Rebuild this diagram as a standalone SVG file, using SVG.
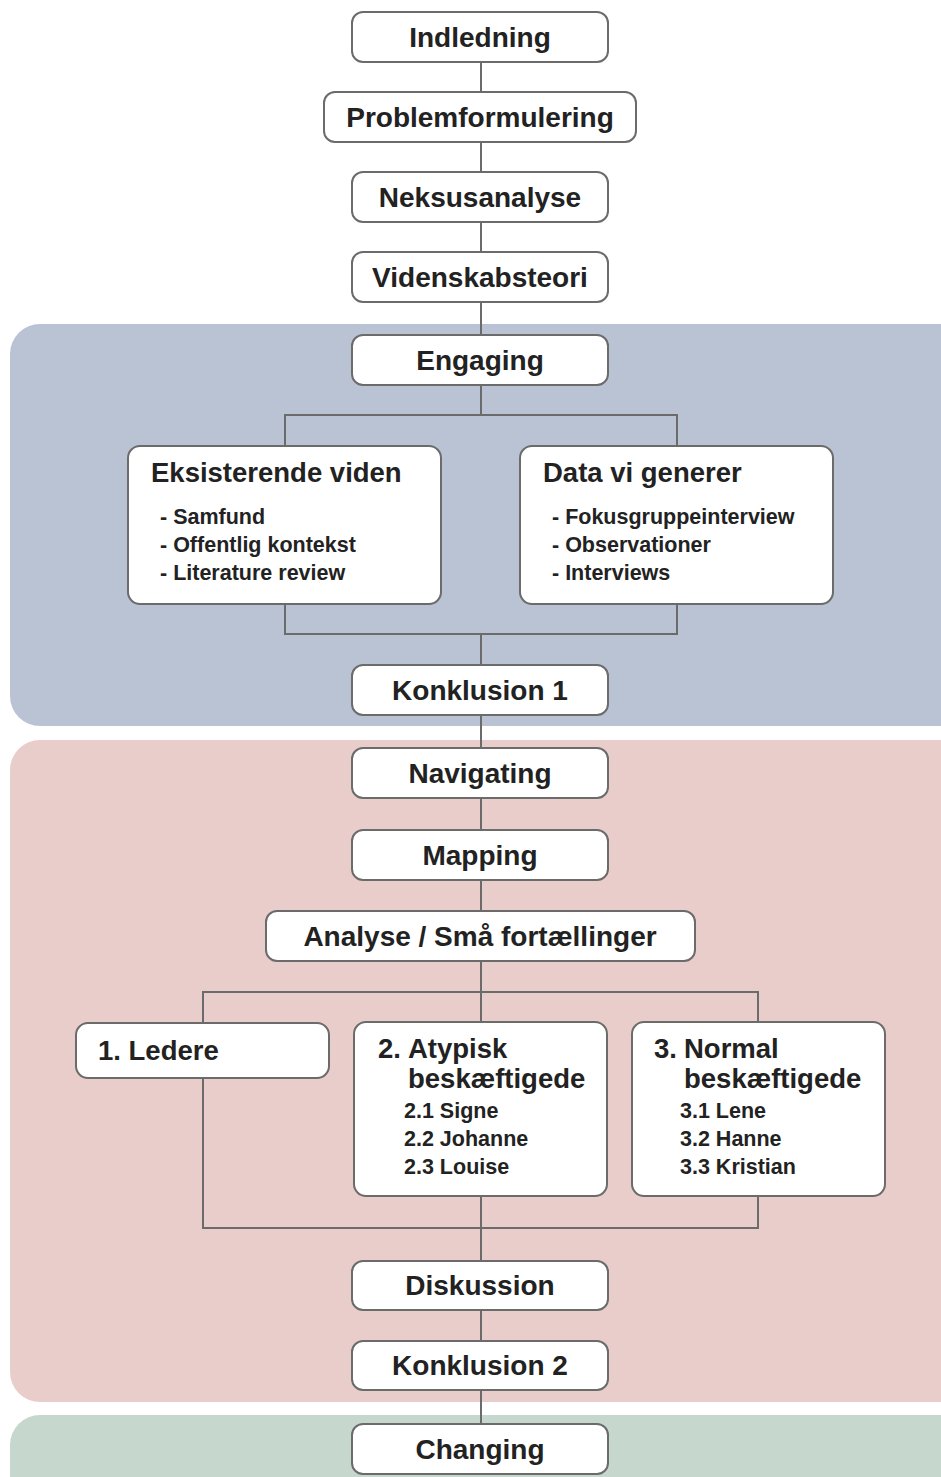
<svg xmlns="http://www.w3.org/2000/svg" width="941" height="1477" viewBox="0 0 941 1477">
<style>
.bg{stroke:none}
.box{fill:#ffffff;stroke:#6b6b6b;stroke-width:2}
.conn{fill:none;stroke:#6b6b6b;stroke-width:2}
text{font-family:"Liberation Sans",Arial,sans-serif;font-weight:bold;fill:#222}
.t{font-size:28px;text-anchor:middle}
.h{font-size:27.5px}
.s{font-size:21.5px}
</style>
<rect width="941" height="1477" fill="#ffffff"/>
<rect class="bg" x="10" y="324" width="970" height="402" rx="30" fill="#b9c3d4"/>
<rect class="bg" x="10" y="740" width="970" height="662" rx="30" fill="#e9cdca"/>
<rect class="bg" x="10" y="1415" width="970" height="100" rx="30" fill="#c6d8cd"/>
<g id="connectors">
<path class="conn" d="M481 62V92M481 142V172M481 222V252M481 302V335"/>
<path class="conn" d="M481 385V415M285 446V415H677V446"/>
<path class="conn" d="M285 604V634H677V604M481 634V665"/>
<path class="conn" d="M481 715V748M481 798V830M481 880V911"/>
<path class="conn" d="M481 961V1022M203 1023V992H758V1022"/>
<path class="conn" d="M203 1078V1228H758V1196M481 1196V1261"/>
<path class="conn" d="M481 1310V1341M481 1390V1424"/>
</g>
<g id="indledning"><rect class="box" x="352" y="12" width="256" height="50" rx="11"/><text class="t" x="480" y="47">Indledning</text></g>
<g id="problemformulering"><rect class="box" x="324" y="92" width="312" height="50" rx="11"/><text class="t" x="480" y="127">Problemformulering</text></g>
<g id="neksusanalyse"><rect class="box" x="352" y="172" width="256" height="50" rx="11"/><text class="t" x="480" y="207">Neksusanalyse</text></g>
<g id="videnskabsteori"><rect class="box" x="352" y="252" width="256" height="50" rx="11"/><text class="t" x="480" y="287">Videnskabsteori</text></g>
<g id="engaging"><rect class="box" x="352" y="335" width="256" height="50" rx="11"/><text class="t" x="480" y="370">Engaging</text></g>
<g id="eksisterende"><rect class="box" x="128" y="446" width="313" height="158" rx="12"/>
<text class="h" x="151" y="482">Eksisterende viden</text>
<text class="s" x="160" y="524">- Samfund</text>
<text class="s" x="160" y="552">- Offentlig kontekst</text>
<text class="s" x="160" y="580">- Literature review</text></g>
<g id="data"><rect class="box" x="520" y="446" width="313" height="158" rx="12"/>
<text class="h" x="543" y="482">Data vi generer</text>
<text class="s" x="552" y="524">- Fokusgruppeinterview</text>
<text class="s" x="552" y="552">- Observationer</text>
<text class="s" x="552" y="580">- Interviews</text></g>
<g id="konklusion1"><rect class="box" x="352" y="665" width="256" height="50" rx="11"/><text class="t" x="480" y="700">Konklusion 1</text></g>
<g id="navigating"><rect class="box" x="352" y="748" width="256" height="50" rx="11"/><text class="t" x="480" y="783">Navigating</text></g>
<g id="mapping"><rect class="box" x="352" y="830" width="256" height="50" rx="11"/><text class="t" x="480" y="865">Mapping</text></g>
<g id="analyse"><rect class="box" x="266" y="911" width="429" height="50" rx="11"/><text class="t" x="480" y="946">Analyse / Små fortællinger</text></g>
<g id="ledere"><rect class="box" x="76" y="1023" width="253" height="55" rx="12"/><text class="h" x="98" y="1060">1. Ledere</text></g>
<g id="atypisk"><rect class="box" x="354" y="1022" width="253" height="174" rx="12"/>
<text class="h" x="378" y="1058">2.</text><text class="h" x="408" y="1058">Atypisk</text>
<text class="h" x="408" y="1088">beskæftigede</text>
<text class="s" x="404" y="1118">2.1 Signe</text>
<text class="s" x="404" y="1146">2.2 Johanne</text>
<text class="s" x="404" y="1174">2.3 Louise</text></g>
<g id="normal"><rect class="box" x="632" y="1022" width="253" height="174" rx="12"/>
<text class="h" x="654" y="1058">3.</text><text class="h" x="684" y="1058">Normal</text>
<text class="h" x="684" y="1088">beskæftigede</text>
<text class="s" x="680" y="1118">3.1 Lene</text>
<text class="s" x="680" y="1146">3.2 Hanne</text>
<text class="s" x="680" y="1174">3.3 Kristian</text></g>
<g id="diskussion"><rect class="box" x="352" y="1261" width="256" height="49" rx="11"/><text class="t" x="480" y="1295">Diskussion</text></g>
<g id="konklusion2"><rect class="box" x="352" y="1341" width="256" height="49" rx="11"/><text class="t" x="480" y="1375">Konklusion 2</text></g>
<g id="changing"><rect class="box" x="352" y="1424" width="256" height="50" rx="11"/><text class="t" x="480" y="1459">Changing</text></g>
</svg>
